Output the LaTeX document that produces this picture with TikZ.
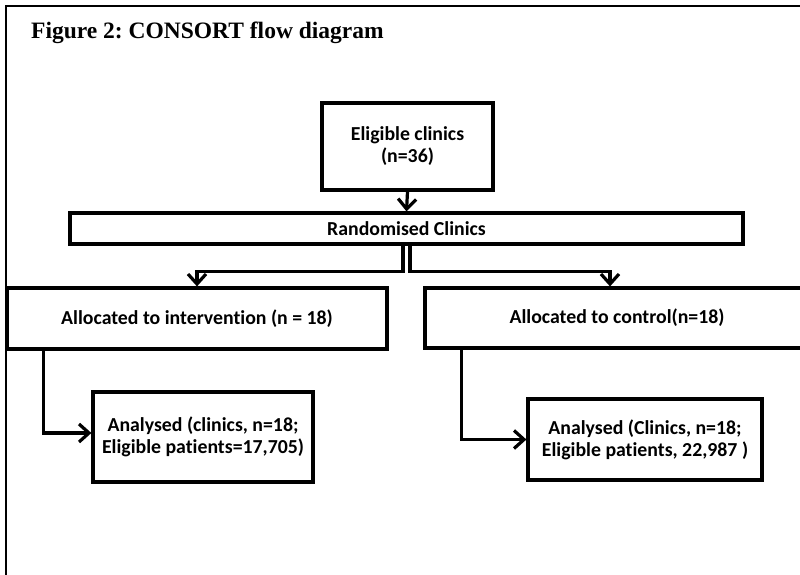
\documentclass[tikz,border=0pt]{standalone}
\usepackage{fontspec}
\setmainfont{Carlito}[Ligatures=NoCommon]
\newfontfamily\titlefont{Liberation Serif}
\usetikzlibrary{arrows.meta,positioning}
\tikzset{
  flowbox/.style={draw=black, line width=3.2pt, fill=white, align=center,
    font=\fontsize{19.8}{22}\selectfont\bfseries, inner sep=0pt},
  conn/.style={line width=3.2pt, line join=miter,
    -{Straight Barb[length=10pt,width=18pt,line width=3.2pt]}},
  frame/.style={line width=2.2pt}
}
\frenchspacing
\begin{document}
\begin{tikzpicture}[x=1pt,y=-1pt]
\useasboundingbox (0,0) rectangle (800,574);
\draw[frame] (6,600) -- (6,6) -- (820,6);
\node[anchor=base west, inner sep=0pt, font=\titlefont\fontsize{23.5}{26}\selectfont\bfseries] (title) at (31,38) {Figure 2: CONSORT flow diagram};
\node[flowbox, minimum width=171pt, minimum height=87pt] (elig) at (407.5,146.5) {Eligible clinics\\(n=36)};
\node[flowbox, minimum width=673pt, minimum height=31pt] (rand) at (406.5,228.5) {Randomised Clinics};
\node[flowbox, minimum width=380pt, minimum height=61pt] (int) at (197,318.5) {Allocated to intervention (n = 18)};
\node[flowbox, minimum width=384pt, minimum height=60pt] (ctrl) at (617,318) {Allocated to control(n=18)};
\node[flowbox, minimum width=220pt, minimum height=90pt] (an1) at (203,437) {Analysed (clinics, n=18;\\Eligible patients=17,705)};
\node[flowbox, minimum width=234pt, minimum height=81pt] (an2) at (645,439.5) {Analysed (Clinics, n=18;\\Eligible patients, 22,987 )};
\draw[conn] (elig.south) -- (rand.north);
\draw[conn] ([xshift=-3.5pt]rand.south) -- ++(0,26) -| (int.north);
\draw[conn] ([xshift=3.5pt]rand.south) -- ++(0,26) -| ([xshift=-7pt]ctrl.north);
\draw[conn] ([xshift=38pt]int.south west) |- ([yshift=4pt]an1.west);
\draw[conn] ([xshift=38pt]ctrl.south west) |- (an2.west);
\end{tikzpicture}
\end{document}
